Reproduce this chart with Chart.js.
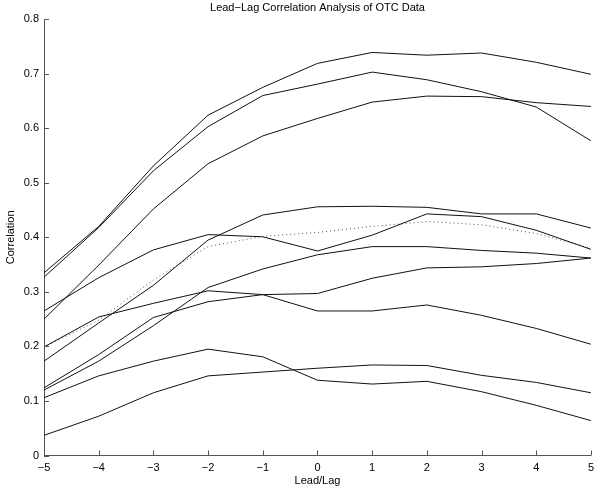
<!DOCTYPE html>
<html>
<head>
<meta charset="utf-8">
<script src="https://cdn.jsdelivr.net/npm/chart.js@4.4.1/dist/chart.umd.min.js"></script>
<style>
  html, body { margin: 0; padding: 0; background: #fff; }
  #wrap { width: 600px; height: 493px; }
</style>
</head>
<body>
<div id="wrap"><canvas id="lagChart" width="600" height="493"></canvas></div>
<script>
// lead/lag positions on the x axis
const lags = [-5, -4, -3, -2, -1, 0, 1, 2, 3, 4, 5];
const yTicks = [0, 0.1, 0.2, 0.3, 0.4, 0.5, 0.6, 0.7, 0.8];

// correlation series (solid lines)
const seriesA = [0.335, 0.420, 0.531, 0.624, 0.675, 0.719, 0.739, 0.734, 0.738, 0.721, 0.699];
const seriesB = [0.327, 0.418, 0.522, 0.603, 0.660, 0.681, 0.703, 0.689, 0.667, 0.639, 0.577];
const seriesC = [0.250, 0.349, 0.452, 0.535, 0.586, 0.618, 0.648, 0.659, 0.658, 0.647, 0.640];
const seriesD = [0.265, 0.326, 0.377, 0.405, 0.401, 0.375, 0.404, 0.443, 0.438, 0.413, 0.378];
const seriesE = [0.173, 0.243, 0.312, 0.395, 0.441, 0.456, 0.457, 0.455, 0.443, 0.443, 0.417];
const seriesG = [0.199, 0.254, 0.279, 0.302, 0.295, 0.297, 0.325, 0.344, 0.346, 0.352, 0.362];
const seriesH = [0.124, 0.185, 0.253, 0.282, 0.295, 0.265, 0.265, 0.276, 0.257, 0.233, 0.204];
const seriesI = [0.120, 0.173, 0.238, 0.308, 0.342, 0.368, 0.383, 0.383, 0.376, 0.371, 0.362];
const seriesJ = [0.106, 0.146, 0.173, 0.195, 0.181, 0.138, 0.131, 0.136, 0.117, 0.092, 0.064];
const seriesK = [0.037, 0.072, 0.115, 0.146, 0.153, 0.160, 0.166, 0.165, 0.147, 0.134, 0.115];
// dotted line (average)
const seriesMean = [0.199, 0.248, 0.322, 0.383, 0.402, 0.409, 0.420, 0.429, 0.423, 0.407, 0.380];

const solidSeries = [seriesA, seriesB, seriesC, seriesD, seriesE, seriesG, seriesH, seriesI, seriesJ, seriesK];

const axisColor = "#555";
const fontFamily = "'Liberation Sans', Arial, Helvetica, sans-serif";

function toPoints(values) {
  return lags.map((lag, i) => ({ x: lag, y: values[i] }));
}

const datasets = solidSeries.map((values) => ({
  data: toPoints(values),
  borderColor: "#111",
  borderWidth: 1,
  pointRadius: 0,
  tension: 0,
  fill: false,
}));

datasets.push({
  data: toPoints(seriesMean),
  borderColor: "#555",
  borderWidth: 1,
  borderDash: [1, 3],
  pointRadius: 0,
  tension: 0,
  fill: false,
});

// MATLAB style: tick marks drawn inside the axes
const innerTicks = {
  id: "innerTicks",
  afterDatasetsDraw(chart) {
    const { ctx, chartArea, scales } = chart;
    const x = scales.x;
    const y = scales.y;
    ctx.save();
    ctx.strokeStyle = axisColor;
    ctx.lineWidth = 1;
    ctx.beginPath();
    lags.forEach((v) => {
      const px = Math.round(x.getPixelForValue(v)) + 0.5;
      ctx.moveTo(px, chartArea.bottom);
      ctx.lineTo(px, chartArea.bottom - 5);
    });
    yTicks.forEach((v) => {
      const py = Math.round(y.getPixelForValue(v)) + 0.5;
      ctx.moveTo(chartArea.left, py);
      ctx.lineTo(chartArea.left + 5, py);
    });
    ctx.stroke();
    ctx.restore();
  },
};

const ctx = document.getElementById("lagChart").getContext("2d");
new Chart(ctx, {
  type: "line",
  data: { datasets: datasets },
  options: {
    responsive: false,
    animation: false,
    layout: { padding: { left: 0, right: 4, top: 0, bottom: 0 } },
    plugins: {
      legend: { display: false },
      tooltip: { enabled: false },
      title: {
        display: true,
        fullSize: false,
        text: "Lead\u2212Lag Correlation Analysis of OTC Data",
        color: "#000",
        font: { family: fontFamily, size: 11, weight: "normal" },
        padding: { top: 1, bottom: 5 },
      },
    },
    scales: {
      x: {
        type: "linear",
        min: -5,
        max: 5,
        afterFit: (scale) => { scale.height = 37.5; },
        grid: { display: false, drawTicks: false },
        border: { display: true, color: axisColor, width: 1 },
        ticks: {
          stepSize: 1,
          padding: 6,
          color: "#000",
          font: { family: fontFamily, size: 11 },
          callback: (v) => (v < 0 ? "\u2212" + Math.abs(v) : String(v)),
        },
        title: {
          display: true,
          text: "Lead/Lag",
          color: "#000",
          font: { family: fontFamily, size: 11 },
          padding: { top: 0, bottom: 5 },
        },
      },
      y: {
        min: 0,
        max: 0.8,
        afterFit: (scale) => { scale.width = 44; },
        grid: { display: false, drawTicks: false },
        border: { display: true, color: axisColor, width: 1 },
        ticks: {
          stepSize: 0.1,
          padding: 5,
          color: "#000",
          font: { family: fontFamily, size: 11 },
          callback: (v) => (v === 0 ? "0" : v.toFixed(1)),
        },
        title: {
          display: true,
          text: "Correlation",
          color: "#000",
          font: { family: fontFamily, size: 11 },
          padding: { top: 4, bottom: 0 },
        },
      },
    },
  },
  plugins: [innerTicks],
});
</script>
</body>
</html>
